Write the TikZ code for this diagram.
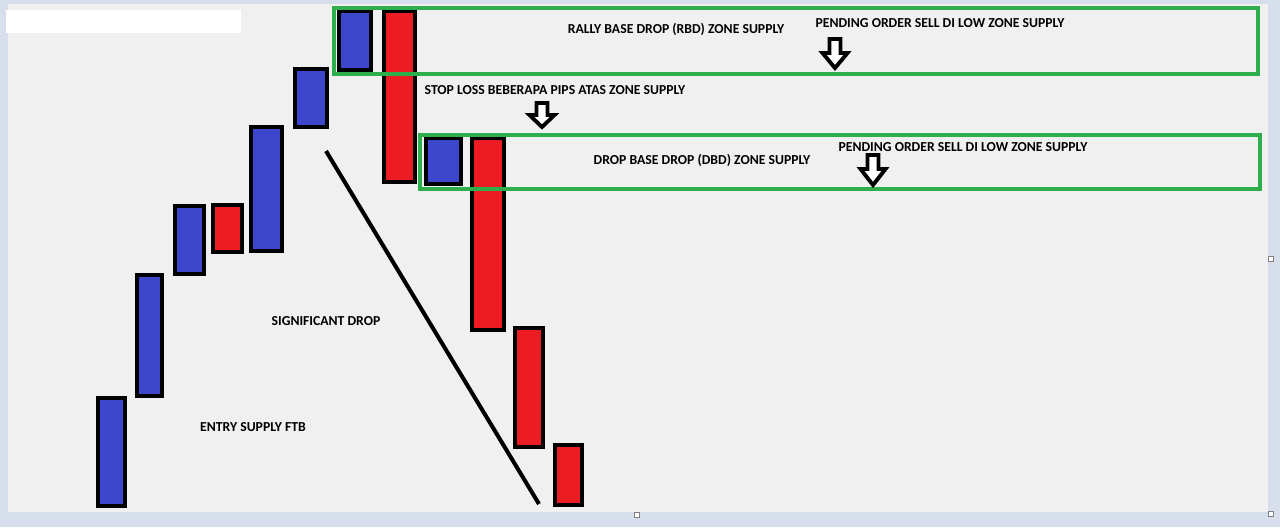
\documentclass[tikz,border=0pt]{standalone}
\usepackage{fontspec}
\setmainfont{Carlito}
\definecolor{frameblue}{HTML}{D6DFEB}
\definecolor{paper}{HTML}{F0F0F0}
\definecolor{bullblue}{HTML}{3D47CC}
\definecolor{bearred}{HTML}{EC1C24}
\definecolor{zonegreen}{HTML}{2EAE4C}
\tikzset{
  bull/.style={draw=black,line width=2.8pt,fill=bullblue},
  bear/.style={draw=black,line width=2.8pt,fill=bearred},
  zone/.style={draw=zonegreen,line width=2.4pt},
  label/.style={font=\fontsize{7.8}{9}\selectfont\bfseries,inner sep=0pt},
  handle/.style={draw=gray,fill=white,line width=0.4pt}
}
% hollow down arrow: x, top, head base, tip
\newcommand{\sellarrow}[4]{%
  \draw[black,line width=2.2pt,fill=white,line join=miter]
    (#1-5.5,#2) -- (#1+5.5,#2) -- (#1+5.5,#3) -- (#1+12.5,#3)
    -- (#1,#4) -- (#1-12.5,#3) -- (#1-5.5,#3) -- cycle;}
\begin{document}
\begin{tikzpicture}[x=0.02cm,y=-0.02cm]
    %% Frame and paper
    \fill[frameblue] (0,0) rectangle (1280,527);
    \fill[paper] (8,4) rectangle (1268,512);
    \fill[white] (6,10) rectangle (241,33);
    %% Rising candles
    \draw[bull] (98,398) rectangle (125,506);
    \draw[bull] (137,275) rectangle (162,396);
    \draw[bull] (175,206) rectangle (204,274);
    \draw[bear] (213,205) rectangle (242,252);
    \draw[bull] (251,127) rectangle (282,251);
    \draw[bull] (295,69) rectangle (327,127);
    \draw[bull] (339,11) rectangle (371,70);
    %% Falling candles
    \draw[bear] (384,11) rectangle (415,182);
    \draw[bull] (426,138) rectangle (461,184);
    \draw[bear] (472,138) rectangle (504,330);
    \draw[bear] (515,328) rectangle (543,447);
    \draw[bear] (555,445) rectangle (582,505);
    %% Drop line
    \coordinate (dropstart) at (326,151);
    \coordinate (dropend) at (539,504);
    \draw[black,line width=2.3pt] (dropstart) -- (dropend);
    %% Zones
    \draw[zone] (334,8) rectangle (1258,74);
    \draw[zone] (420,135) rectangle (1260,189);
    %% Labels
    \node[label] (rbd) at (676,29) {RALLY BASE DROP (RBD) ZONE SUPPLY};
    \node[label] (pending1) at (940,23) {PENDING ORDER SELL DI LOW ZONE SUPPLY};
    \node[label] (stoploss) at (555,90) {STOP LOSS BEBERAPA PIPS ATAS ZONE SUPPLY};
    \node[label] (dbd) at (702,160) {DROP BASE DROP (DBD) ZONE SUPPLY};
    \node[label] (pending2) at (963,147) {PENDING ORDER SELL DI LOW ZONE SUPPLY};
    \node[label] (drop) at (326,321) {SIGNIFICANT DROP};
    \node[label] (entry) at (253,427) {ENTRY SUPPLY FTB};
    %% Arrows
    \sellarrow{835}{39}{53}{68}
    \sellarrow{542}{103}{115}{127}
    \sellarrow{873}{155}{169}{185}
    %% Handles
    \draw[handle] (1268,511) rectangle (1273,516);
    \draw[handle] (634,512) rectangle (639,517);
    \draw[handle] (1268,256) rectangle (1273,261);
\end{tikzpicture}
\end{document}
